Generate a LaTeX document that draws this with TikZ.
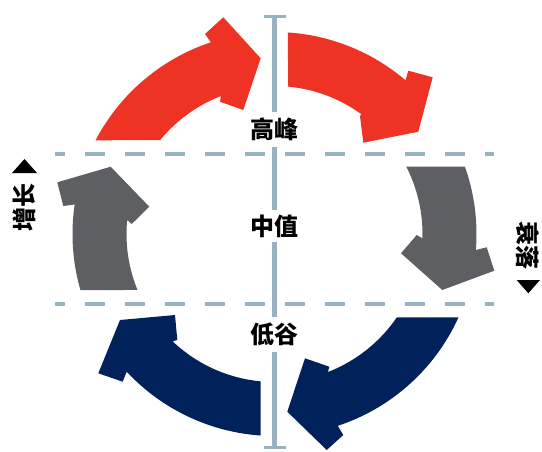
\documentclass[tikz,border=0pt]{standalone}
\usepackage{fontspec}
\newfontfamily\cjk{Noto Sans CJK SC}
\definecolor{redA}{RGB}{238,50,36}
\definecolor{grayA}{RGB}{94,95,99}
\definecolor{navyA}{RGB}{0,33,90}
\definecolor{axisC}{RGB}{152,178,193}
\begin{document}
\begin{tikzpicture}[x=1pt,y=-1pt,
  axisline/.style={draw=axisC,line width=4.5pt},
  dashline/.style={draw=axisC,line width=4.5pt,dash pattern=on 20pt off 20pt,dash phase=10pt},
  lab/.style={font=\cjk\bfseries\fontsize{24}{24}\selectfont,inner sep=0pt,outer sep=0pt,minimum width=50pt},
  side/.style={font=\cjk\bfseries\fontsize{24}{24}\selectfont,inner sep=0pt}]
\useasboundingbox (0,0) rectangle (542,451);
% ring: centre (274.5,234), outer radius 202, inner 148
% red, top left
\fill[redA] plot[domain=207.64:251.64,samples=40] ({274.5+202*cos(\x)},{234+202*sin(\x)})
  -- (205,34) -- (223.3,17.3) -- (260.7,58.3) -- (243.3,110) -- (220,101.7)
  -- plot[domain=248.81:219.39,samples=40] ({274.5+148*cos(\x)},{234+148*sin(\x)}) -- cycle;
% red, top right
\fill[redA] plot[domain=273.82:310.43,samples=40] ({274.5+202*cos(\x)},{234+202*sin(\x)})
  -- (408.3,70.7) -- (432.7,77.3) -- (418.3,131.7) -- (363.3,142.7) -- (360,116)
  -- plot[domain=305.91:275.25,samples=40] ({274.5+148*cos(\x)},{234+148*sin(\x)}) -- cycle;
% gray, right
\fill[grayA] plot[domain=340.54:364.54,samples=40] ({274.5+202*cos(\x)},{234+202*sin(\x)})
  -- (486.7,247.3) -- (494.3,270.7) -- (442.3,290) -- (401,253.3) -- (416.7,235)
  -- plot[domain=361.67:332.95,samples=40] ({274.5+148*cos(\x)},{234+148*sin(\x)}) -- cycle;
% navy, bottom right
\fill[navyA] plot[domain=24.36:71.74,samples=40] ({274.5+202*cos(\x)},{234+202*sin(\x)})
  -- (343.3,435) -- (326.7,450) -- (287.3,411.7) -- (305,358.3) -- (329.3,366.7)
  -- plot[domain=68.80:34.25,samples=40] ({274.5+148*cos(\x)},{234+148*sin(\x)}) -- cycle;
% navy, bottom left
\fill[navyA] plot[domain=93.92:137.02,samples=40] ({274.5+202*cos(\x)},{234+202*sin(\x)})
  -- (122.7,381.7) -- (98.3,373.3) -- (120,320) -- (175,315) -- (177.3,340)
  -- plot[domain=133.51:95.35,samples=40] ({274.5+148*cos(\x)},{234+148*sin(\x)}) -- cycle;
% gray, left
\fill[grayA] plot[domain=163.9:188.40,samples=40] ({274.5+202*cos(\x)},{234+202*sin(\x)})
  -- (63.3,206) -- (57.3,182.3) -- (110.7,166.7) -- (149.3,206.7) -- (131.7,224)
  -- plot[domain=185.43:157.77,samples=40] ({274.5+148*cos(\x)},{234+148*sin(\x)}) -- cycle;
% dashed level lines
\coordinate (d1l) at (55,154);  \coordinate (d1r) at (494,154);
\coordinate (d2l) at (55,304);  \coordinate (d2r) at (494,304);
\draw[dashline] (d1l) -- (d1r);
\draw[dashline] (d2l) -- (d2r);
% labels on the axis
\node[lab,minimum height=35pt] (peak) at (274.5,129) {高峰};
\node[lab,minimum height=32pt] (mid) at (274.5,226) {中值};
\node[lab,minimum height=35pt] (low) at (274.5,334) {低谷};
\coordinate (top) at (274.5,16.5);
\coordinate (bot) at (274.5,447.5);
\draw[axisline] (top) -- (peak.north) (peak.south) -- (mid.north) (mid.south) -- (low.north) (low.south) -- (bot);
\draw[draw=axisC,line width=3.5pt] ([xshift=-11pt]top) -- ([xshift=11pt]top);
\draw[draw=axisC,line width=3.5pt] ([xshift=-11pt]bot) -- ([xshift=11pt]bot);
% side labels
\node[side,rotate=90] (grow) at (24,207) {增长};
\fill (12,173) -- (37,173) -- (24.5,159) -- cycle;
\node[side,rotate=-90] (fall) at (528,245) {衰落};
\fill (516.7,280) -- (540,280) -- (528.3,293.3) -- cycle;
\end{tikzpicture}
\end{document}
